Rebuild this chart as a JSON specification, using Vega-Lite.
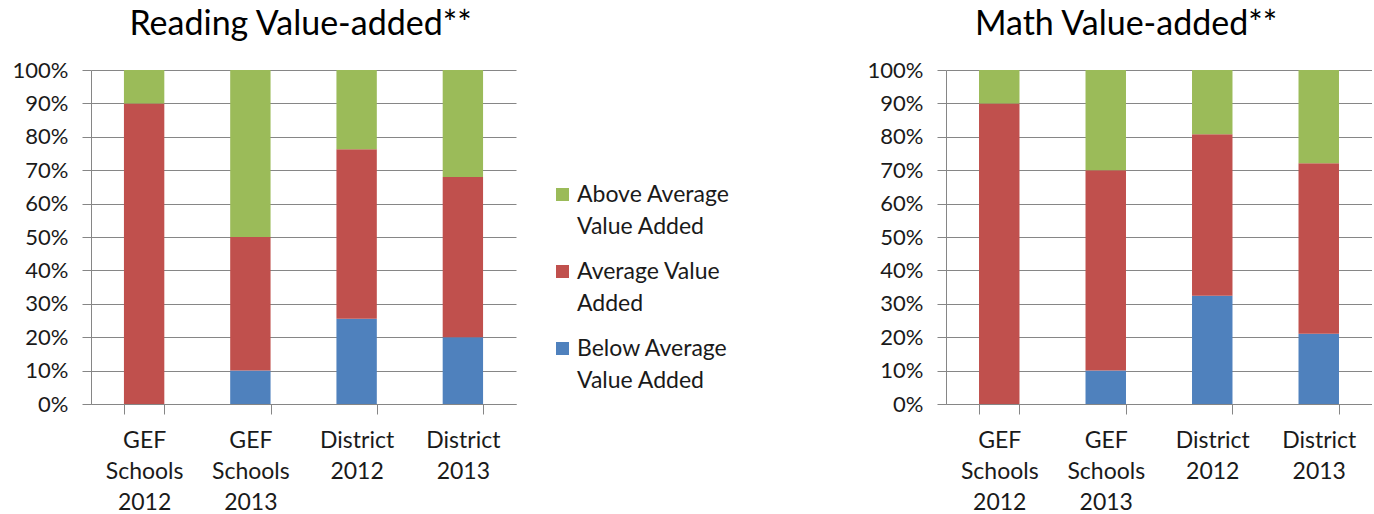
{
  "$schema": "https://vega.github.io/schema/vega-lite/v6.json",
  "background": "white",
  "padding": {"left": 12, "top": 8, "right": 0, "bottom": 0},
  "config": {
    "font": "Lato",
    "view": {"stroke": null},
    "axisY": {
      "values": [0, 0.1, 0.2, 0.3, 0.4, 0.5, 0.6, 0.7, 0.8, 0.9, 1],
      "format": ".0%",
      "grid": true,
      "gridColor": "#868686",
      "domainColor": "#868686",
      "tickColor": "#868686",
      "ticks": true,
      "tickSize": 9,
      "labelPadding": 14,
      "labelFontSize": 22,
      "labelColor": "#1a1a1a",
      "title": null
    },
    "axisX": {
      "tickBand": "extent",
      "tickSize": 10,
      "labelAngle": 0,
      "domainColor": "#868686",
      "tickColor": "#868686",
      "labelFontSize": 23,
      "labelLineHeight": 31,
      "labelPadding": 15,
      "labelColor": "#1a1a1a",
      "labelExpr": "split(datum.label, ' ')",
      "title": null
    },
    "title": {"fontSize": 34, "fontWeight": "normal", "color": "#000000", "frame": "group", "anchor": "middle", "baseline": "alphabetic", "offset": 17}
  },
  "datasets": {
    "reading": [
      {"cat": "GEF Schools 2012", "level": "Below Average Value Added", "value": 0},
      {"cat": "GEF Schools 2012", "level": "Average Value Added", "value": 0.90},
      {"cat": "GEF Schools 2012", "level": "Above Average Value Added", "value": 0.10},
      {"cat": "GEF Schools 2013", "level": "Below Average Value Added", "value": 0.10},
      {"cat": "GEF Schools 2013", "level": "Average Value Added", "value": 0.40},
      {"cat": "GEF Schools 2013", "level": "Above Average Value Added", "value": 0.50},
      {"cat": "District 2012", "level": "Below Average Value Added", "value": 0.255},
      {"cat": "District 2012", "level": "Average Value Added", "value": 0.508},
      {"cat": "District 2012", "level": "Above Average Value Added", "value": 0.237},
      {"cat": "District 2013", "level": "Below Average Value Added", "value": 0.20},
      {"cat": "District 2013", "level": "Average Value Added", "value": 0.48},
      {"cat": "District 2013", "level": "Above Average Value Added", "value": 0.32}
    ],
    "math": [
      {"cat": "GEF Schools 2012", "level": "Below Average Value Added", "value": 0},
      {"cat": "GEF Schools 2012", "level": "Average Value Added", "value": 0.90},
      {"cat": "GEF Schools 2012", "level": "Above Average Value Added", "value": 0.10},
      {"cat": "GEF Schools 2013", "level": "Below Average Value Added", "value": 0.10},
      {"cat": "GEF Schools 2013", "level": "Average Value Added", "value": 0.60},
      {"cat": "GEF Schools 2013", "level": "Above Average Value Added", "value": 0.30},
      {"cat": "District 2012", "level": "Below Average Value Added", "value": 0.324},
      {"cat": "District 2012", "level": "Average Value Added", "value": 0.484},
      {"cat": "District 2012", "level": "Above Average Value Added", "value": 0.192},
      {"cat": "District 2013", "level": "Below Average Value Added", "value": 0.21},
      {"cat": "District 2013", "level": "Average Value Added", "value": 0.511},
      {"cat": "District 2013", "level": "Above Average Value Added", "value": 0.279}
    ]
  },
  "resolve": {"legend": {"color": "independent"}},
  "spacing": 137,
  "hconcat": [
    {
      "width": 425,
      "height": 334,
      "title": {"text": "Reading Value-added**", "dx": -3},
      "data": {"name": "reading"},
      "mark": {"type": "bar"},
      "encoding": {
        "x": {"field": "cat", "type": "nominal", "sort": ["GEF Schools 2012", "GEF Schools 2013", "District 2012", "District 2013"], "scale": {"paddingInner": 0.62, "paddingOuter": 0.31}},
        "y": {"field": "value", "type": "quantitative", "stack": "zero", "scale": {"domain": [0, 1]}},
        "color": {
          "field": "level", "type": "nominal",
          "scale": {"domain": ["Above Average Value Added", "Average Value Added", "Below Average Value Added"], "range": ["#9BBB59", "#C0504D", "#4F81BD"]},
          "legend": {
            "orient": "none", "legendX": 460, "legendY": 113, "title": null, "padding": 0,
            "symbolType": "square", "symbolSize": 169, "symbolStrokeWidth": 0,
            "labelFontSize": 23, "labelLimit": 300, "labelOffset": 3, "labelColor": "#1a1a1a",
            "rowPadding": 21,
            "labelExpr": "datum.label == 'Above Average Value Added' ? ['Above Average', 'Value Added'] : datum.label == 'Average Value Added' ? ['Average Value', 'Added'] : ['Below Average', 'Value Added']",
            "encode": {"labels": {"update": {"lineHeight": {"value": 32}}}}
          }
        },
        "order": {"field": "level", "sort": "descending"}
      }
    },
    {
      "width": 426,
      "height": 334,
      "title": {"text": "Math Value-added**", "dx": -33},
      "data": {"name": "math"},
      "mark": {"type": "bar"},
      "encoding": {
        "x": {"field": "cat", "type": "nominal", "sort": ["GEF Schools 2012", "GEF Schools 2013", "District 2012", "District 2013"], "scale": {"paddingInner": 0.62, "paddingOuter": 0.31}},
        "y": {"field": "value", "type": "quantitative", "stack": "zero", "scale": {"domain": [0, 1]}},
        "color": {
          "field": "level", "type": "nominal",
          "scale": {"domain": ["Above Average Value Added", "Average Value Added", "Below Average Value Added"], "range": ["#9BBB59", "#C0504D", "#4F81BD"]},
          "legend": null
        },
        "order": {"field": "level", "sort": "descending"}
      }
    }
  ]
}
